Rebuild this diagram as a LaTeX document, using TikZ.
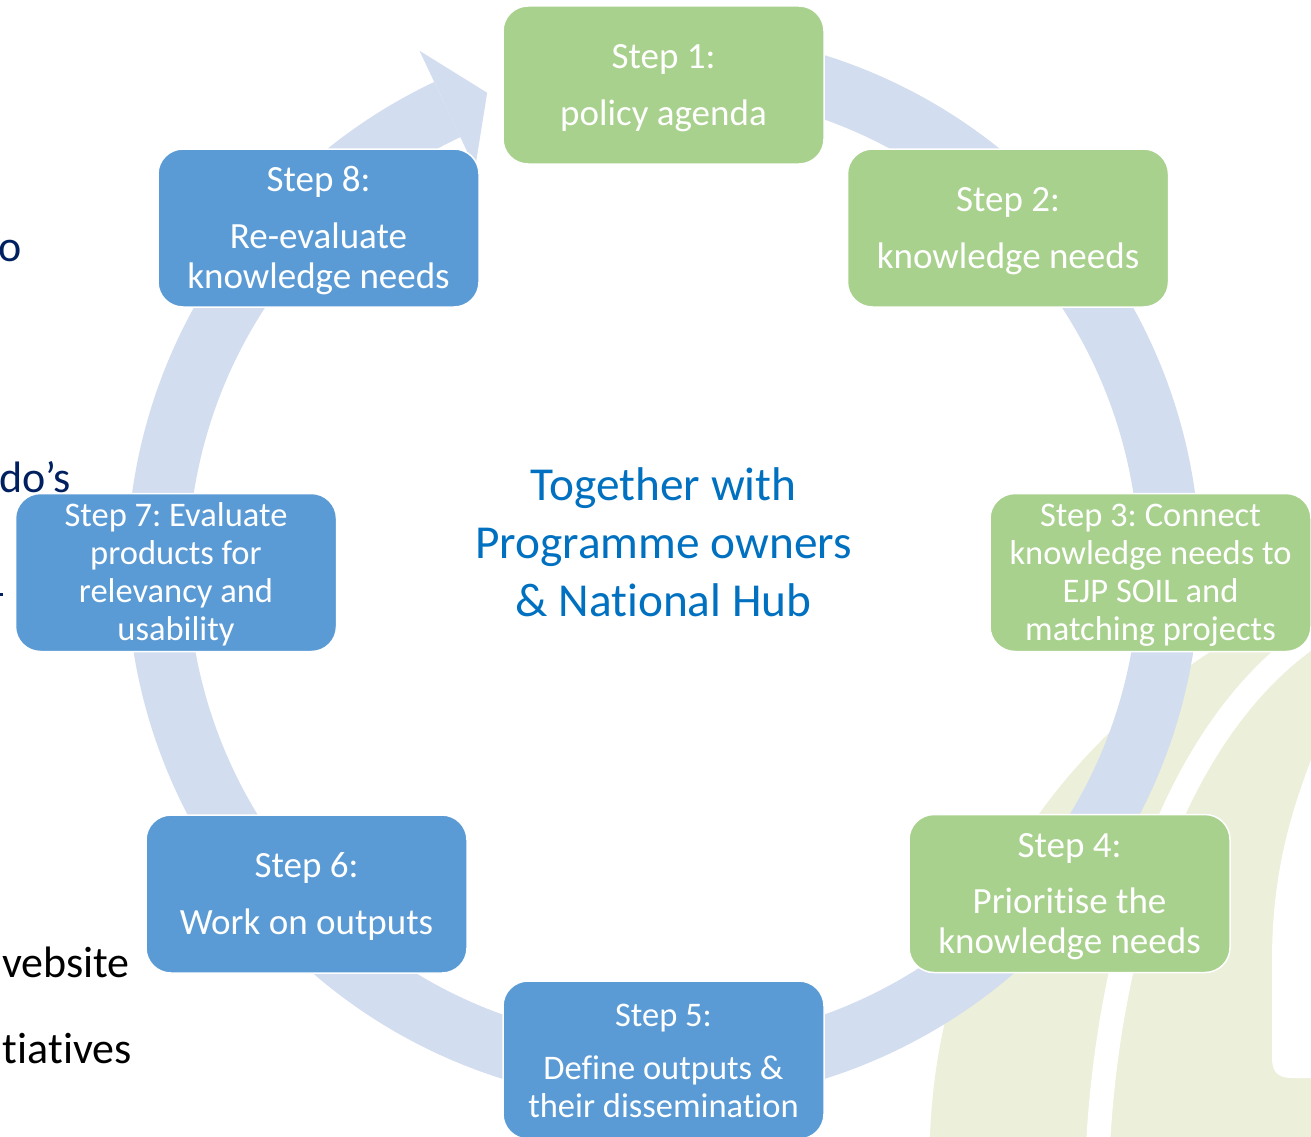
\documentclass[tikz,border=0pt]{standalone}
\usepackage{fontspec}
\setmainfont{Carlito}[Ligatures={NoCommon}]
\frenchspacing
\definecolor{ringc}{HTML}{D2DDEF}
\definecolor{boxgreen}{HTML}{A9D18E}
\definecolor{boxblue}{HTML}{5B9BD5}
\definecolor{midblue}{HTML}{0070C0}
\definecolor{navy}{HTML}{002060}
\definecolor{leafc}{HTML}{ECEFD9}
\newcommand{\bigstrut}{\rule{0pt}{30pt}}
\newcommand{\smallstrut}{\rule{0pt}{28pt}}
\tikzset{
  stepbox/.style={rounded corners=25pt, draw=white, line width=1.5pt,
    minimum width=321pt, minimum height=158pt, inner sep=0pt,
    text=white, align=center, font=\fontsize{37}{40}\selectfont},
  greenbox/.style={stepbox, fill=boxgreen},
  bluebox/.style={stepbox, fill=boxblue},
  smalltext/.style={font=\fontsize{34.5}{38}\selectfont},
  sidetext/.style={inner sep=0pt, font=\fontsize{44}{50}\selectfont},
}
\begin{document}
\begin{tikzpicture}[x=1pt,y=-1pt]
\useasboundingbox (0,0) rectangle (1311,1137);
\clip (0,0) rectangle (1311,1137);
\fill[white] (0,0) rectangle (1311,1137);
% background leaf shapes
\fill[leafc] (930,1137) .. controls (938,915) and (1060,715) .. (1311,595) -- (1311,1137) -- cycle;
\draw[white, line width=24pt] (1098,1145) .. controls (1110,930) and (1180,720) .. (1320,630);
\fill[white] (1311,760) .. controls (1288,820) and (1272,880) .. (1272,960) -- (1272,1058)
  .. controls (1272,1072) and (1278,1078) .. (1292,1078) -- (1311,1078) -- cycle;
% ring
\coordinate (c) at (663.5,567);
\draw[ringc, line width=61pt] (c) ++(-80:506) arc[start angle=-80, end angle=244.7, radius=506];
\fill[ringc, shift={(663.5,567)}] (244.7:571) -- (249.6:506) -- (244.7:441) -- cycle;
% side texts
\node[sidetext, text=navy, anchor=base west] (l1) at (-2,261) {o};
\node[sidetext, text=navy, anchor=base west] (l2) at (-1,492) {do’s};
\fill[navy] (0,593) rectangle (2.5,596);
\node[sidetext, text=black, anchor=base east] (l3) at (130,977) {vebsite};
\node[sidetext, text=black, anchor=base east] (l4) at (132,1063) {tiatives};
% boxes
\node[greenbox] (s1) at (663.5,85) {\bigstrut Step 1:\\[17pt]policy agenda};
\node[greenbox] (s2) at (1008,228) {\bigstrut Step 2:\\[17pt]knowledge needs};
\node[greenbox, smalltext] (s3) at (1150.5,572.5) {\smallstrut Step 3: Connect\\knowledge needs to\\EJP SOIL and\\matching projects};
\node[greenbox] (s4) at (1069.5,893.5) {\bigstrut Step 4:\\[16pt]Prioritise the\\knowledge needs};
\node[bluebox, smalltext] (s5) at (663.5,1060) {\rule{0pt}{24pt}Step 5:\\[15pt]Define outputs \&\\their dissemination};
\node[bluebox] (s6) at (306.5,894) {\bigstrut Step 6:\\[17pt]Work on outputs};
\node[bluebox, smalltext] (s7) at (176,572.5) {\smallstrut Step 7: Evaluate\\products for\\relevancy and\\usability};
\node[bluebox] (s8) at (318.5,228) {\bigstrut Step 8:\\[17pt]Re-evaluate\\knowledge needs};
% centre text
\node[text=midblue, align=center, inner sep=0pt, font=\fontsize{47.3}{58}\selectfont] (ctr) at (663.5,542) {Together with\\Programme owners\\\& National Hub};
\end{tikzpicture}
\end{document}
